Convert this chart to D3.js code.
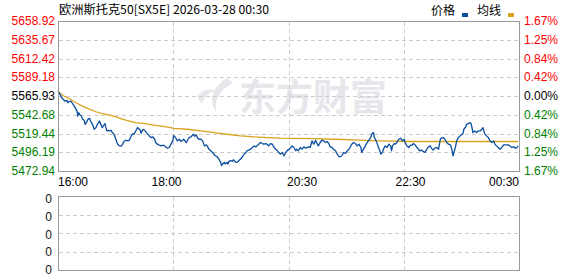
<!DOCTYPE html>
<html>
<head>
<meta charset="utf-8">
<script src="https://d3js.org/d3.v7.min.js"></script>
<style>
  body { margin: 0; background: #fff; }
  svg { display: block; }
  text { font-family: Arial, "Liberation Sans", sans-serif; font-size: 12px; }
</style>
</head>
<body>
<svg id="chart"></svg>
<script>
// chart texts
var titleText = '欧洲斯托克50[SX5E] 2026-03-28 00:30';
var legendNames = ['价格', '均线'];
var watermarkText = '东方财富';

// tick labels
var priceTicks = ['5658.92', '5635.67', '5612.42', '5589.18', '5565.93', '5542.68', '5519.44', '5496.19', '5472.94'];
var pctTicks = ['1.67%', '1.25%', '0.84%', '0.42%', '0.00%', '0.42%', '0.84%', '1.25%', '1.67%'];
var timeLabels = ['16:00', '18:00', '20:30', '22:30', '00:30'];
var timeMinutes = [0, 120, 270, 390, 510]; // minutes after 16:00
var volumeTicks = ['0', '0', '0', '0', '0'];

// price series: [minutes after 16:00, price]
var pricePoints = [
  [0,5571.8],[2,5568.6],[4,5563.7],[6,5561.6],[8,5559.5],[10,5560.4],[11,5557.5],[12,5558.8],[14,5559.5],[16,5556.7],
  [18,5553.4],[20,5549.3],[21,5547.2],[22,5541.0],[23,5545.2],[24,5543.1],[26,5541.0],[27,5537.8],[29,5535.7],[30,5530.8],
  [32,5534.1],[33,5537.0],[35,5538.2],[36,5534.9],[38,5530.8],[39,5528.7],[40,5524.6],[42,5526.7],[44,5531.7],[46,5534.9],
  [47,5531.7],[49,5526.7],[50,5528.7],[52,5531.7],[53,5526.7],[54,5522.6],[56,5523.4],[57,5522.6],[59,5523.4],[60,5520.6],
  [62,5518.5],[64,5512.3],[66,5506.2],[68,5504.1],[70,5503.7],[71,5505.3],[73,5509.5],[75,5511.1],[77,5510.3],[79,5511.1],
  [81,5516.4],[83,5519.3],[84,5518.5],[86,5522.6],[88,5526.7],[89,5525.9],[91,5523.4],[92,5519.7],[93,5522.6],[94,5524.6],
  [96,5523.4],[97,5521.8],[99,5519.3],[101,5516.4],[103,5514.4],[105,5515.2],[107,5512.3],[108,5508.3],[110,5506.2],[112,5504.9],
  [114,5504.1],[116,5504.9],[118,5504.1],[119,5502.9],[121,5501.2],[123,5502.1],[125,5506.2],[127,5510.3],[128,5517.0],[130,5514.4],
  [132,5510.3],[134,5512.3],[136,5509.5],[137,5510.3],[139,5512.3],[141,5509.5],[142,5508.3],[144,5512.3],[145,5514.4],[147,5515.2],
  [149,5517.7],[150,5518.5],[151,5516.0],[153,5517.7],[154,5514.4],[156,5512.3],[158,5512.3],[160,5510.3],[161,5507.0],[162,5504.1],
  [164,5505.4],[165,5504.1],[167,5500.0],[169,5498.0],[171,5495.9],[173,5493.1],[174,5491.8],[176,5490.6],[178,5487.7],[180,5483.6],
  [181,5479.5],[182,5481.6],[184,5483.6],[185,5481.6],[187,5483.6],[188,5481.6],[189,5484.8],[191,5485.7],[193,5484.8],[194,5486.9],
  [195,5485.7],[197,5483.6],[198,5483.6],[200,5485.7],[202,5487.7],[204,5490.6],[206,5493.9],[208,5495.9],[209,5498.0],[211,5498.8],
  [213,5500.0],[215,5502.1],[217,5504.1],[219,5502.9],[220,5504.1],[222,5506.2],[224,5508.3],[226,5507.0],[228,5506.2],[230,5507.0],
  [232,5505.4],[233,5504.1],[235,5507.0],[237,5506.2],[239,5502.1],[241,5500.0],[243,5498.0],[244,5495.9],[246,5493.9],[248,5495.9],
  [250,5491.8],[252,5495.9],[254,5498.8],[256,5500.0],[257,5501.3],[259,5504.1],[261,5502.1],[263,5498.0],[264,5500.0],[266,5498.0],
  [268,5502.1],[270,5500.0],[272,5502.9],[274,5501.3],[276,5502.1],[277,5502.9],[279,5502.1],[281,5510.3],[283,5506.2],[285,5511.1],
  [287,5506.2],[288,5504.1],[290,5508.3],[292,5511.1],[294,5510.3],[296,5508.3],[298,5509.5],[300,5506.2],[301,5502.9],[303,5502.1],
  [305,5500.0],[307,5498.0],[309,5493.9],[311,5490.6],[312,5490.6],[314,5491.8],[316,5495.9],[318,5494.7],[320,5498.0],[322,5500.0],
  [323,5502.1],[325,5506.2],[327,5508.3],[329,5507.0],[331,5504.1],[333,5506.2],[335,5502.1],[336,5495.9],[338,5500.0],[340,5504.1],
  [342,5508.3],[344,5511.1],[346,5514.4],[347,5518.5],[349,5520.6],[350,5514.4],[352,5510.3],[354,5504.1],[356,5498.0],[357,5493.9],
  [359,5495.9],[360,5500.0],[362,5504.1],[364,5502.1],[366,5506.2],[368,5504.1],[369,5498.0],[370,5504.1],[372,5507.0],[373,5506.2],
  [375,5508.3],[377,5512.3],[379,5513.6],[381,5510.3],[383,5512.3],[384,5508.3],[386,5504.1],[388,5502.1],[390,5505.0],[392,5505.0],
  [393,5507.0],[395,5505.4],[397,5502.1],[399,5500.0],[400,5498.0],[402,5498.8],[404,5497.2],[406,5495.9],[408,5500.0],[410,5502.9],
  [412,5504.1],[413,5501.3],[415,5498.8],[417,5501.3],[419,5502.1],[421,5500.0],[422,5506.2],[423,5512.3],[424,5513.6],[426,5514.4],
  [428,5512.3],[430,5508.3],[432,5506.2],[434,5505.4],[435,5502.9],[436,5498.0],[437,5491.8],[438,5495.9],[440,5504.1],[441,5510.3],
  [443,5514.4],[445,5516.5],[447,5518.5],[448,5519.3],[449,5524.7],[451,5527.5],[452,5530.8],[454,5531.6],[456,5532.9],[457,5531.6],
  [458,5526.7],[459,5520.6],[461,5522.6],[463,5520.6],[465,5522.6],[467,5522.6],[469,5524.7],[470,5526.7],[471,5523.4],[472,5519.3],
  [474,5516.5],[476,5514.4],[478,5510.3],[480,5508.3],[482,5510.3],[483,5507.0],[485,5504.1],[487,5502.1],[489,5500.0],[491,5502.1],
  [493,5505.4],[495,5505.4],[496,5505.4],[498,5505.4],[500,5504.1],[502,5502.1],[504,5502.9],[506,5501.3],[507,5501.3],[509,5504.1]
];

// average line: [minutes after 16:00, price]
var avgPoints = [
  [0,5571.9],[5,5566.9],[12,5562.8],[20,5557.5],[27,5553.4],[35,5549.3],[42,5546.4],[49,5544.0],[57,5542.3],[64,5539.9],
  [72,5537.0],[79,5534.9],[86,5532.9],[94,5532.1],[101,5530.8],[108,5529.6],[116,5528.4],[123,5527.1],[128,5525.9],[143,5524.7],
  [158,5522.6],[173,5520.6],[187,5518.5],[202,5516.5],[217,5515.2],[232,5514.4],[246,5513.6],[281,5513.2],[307,5512.3],[333,5511.1],
  [355,5510.3],[389,5509.5],[509,5509.5]
];

// layout
var width = 578;
var height = 276;
var plot = {left: 58, right: 519, top: 21, bottom: 171};
var vol = {top: 196, bottom: 270};

var red = '#ff0000', green = '#008000', black = '#000';
var priceColor = '#0b4f9e', avgColor = '#daa21d';

var svg = d3.select('#chart')
  .attr('width', width)
  .attr('height', height);

// scales
var x = d3.scaleLinear().domain([0, 510]).range([plot.left, plot.right]);
var y = d3.scaleLinear()
  .domain([+priceTicks[priceTicks.length - 1], +priceTicks[0]])
  .range([plot.bottom, plot.top]);
var row = d3.scaleLinear().domain([0, priceTicks.length - 1]).range([plot.top, plot.bottom]);
var col = d3.scaleLinear().domain([0, 4]).range([plot.left, plot.right]);
var volRow = d3.scaleLinear().domain([0, 4]).range([vol.top, vol.bottom]);
var volLabelRow = d3.scaleLinear().domain([0, 4]).range([vol.top + 3, vol.bottom]);

function tickColor(i) {
  if (i < 4) return red;
  if (i === 4) return black;
  return green;
}

// watermark
var wm = svg.append('g').attr('fill', '#e6e6eb');
wm.append('path')
  .attr('d', 'M227,78 C214,86 207,99 217,113 C213,101 219,90 233,83 C231,81 229,79 227,78 Z');
wm.append('path')
  .attr('d', 'M198,96 C203,89 211,88 216,91 C209,92 204,97 202,104 C200,102 198,99 198,96 Z');
wm.append('text')
  .attr('x', 239)
  .attr('y', 111)
  .style('font-family', '"Noto Sans CJK SC", sans-serif')
  .style('font-size', '37px')
  .style('font-weight', 'bold')
  .text(watermarkText);

// grids
var grid = svg.append('g')
  .attr('transform', 'translate(0.5,0.5)')
  .attr('stroke', '#cccccc')
  .attr('stroke-dasharray', '4,3')
  .attr('shape-rendering', 'crispEdges');

grid.selectAll('line.h')
  .data(d3.range(1, priceTicks.length - 1))
  .enter()
  .append('line')
    .attr('class', 'h')
    .attr('x1', plot.left).attr('x2', plot.right)
    .attr('y1', function(d) { return Math.round(row(d)); })
    .attr('y2', function(d) { return Math.round(row(d)); });

grid.selectAll('line.v')
  .data([1, 2, 3])
  .enter()
  .append('line')
    .attr('class', 'v')
    .attr('x1', function(d) { return Math.round(col(d)); })
    .attr('x2', function(d) { return Math.round(col(d)); })
    .attr('y1', plot.top).attr('y2', plot.bottom);

grid.selectAll('line.vh')
  .data([1, 2, 3])
  .enter()
  .append('line')
    .attr('class', 'vh')
    .attr('x1', plot.left).attr('x2', plot.right)
    .attr('y1', function(d) { return Math.round(volRow(d)); })
    .attr('y2', function(d) { return Math.round(volRow(d)); });

grid.selectAll('line.vv')
  .data([1, 2, 3])
  .enter()
  .append('line')
    .attr('class', 'vv')
    .attr('x1', function(d) { return Math.round(col(d)); })
    .attr('x2', function(d) { return Math.round(col(d)); })
    .attr('y1', vol.top).attr('y2', vol.bottom);

// lines
var line = d3.line()
  .x(function(d) { return x(d[0]); })
  .y(function(d) { return y(d[1]); });

svg.append('path')
  .datum(avgPoints)
  .attr('fill', 'none')
  .attr('stroke', avgColor)
  .attr('stroke-width', 1.3)
  .attr('d', line);

svg.append('path')
  .datum(pricePoints)
  .attr('fill', 'none')
  .attr('stroke', priceColor)
  .attr('stroke-width', 1.3)
  .attr('stroke-linejoin', 'round')
  .attr('d', line);

// frames
var frames = svg.append('g')
  .attr('transform', 'translate(0.5,0.5)')
  .attr('fill', 'none')
  .attr('stroke', '#999999')
  .attr('shape-rendering', 'crispEdges');
frames.append('rect')
  .attr('x', plot.left).attr('y', plot.top)
  .attr('width', plot.right - plot.left).attr('height', plot.bottom - plot.top);
frames.append('rect')
  .attr('x', plot.left).attr('y', vol.top)
  .attr('width', plot.right - plot.left).attr('height', vol.bottom - vol.top);

// left price labels
svg.selectAll('text.price')
  .data(priceTicks)
  .enter()
  .append('text')
    .attr('class', 'price')
    .attr('x', 55)
    .attr('y', function(d, i) { return row(i); })
    .attr('dy', '0.35em')
    .attr('text-anchor', 'end')
    .attr('fill', function(d, i) { return tickColor(i); })
    .text(function(d) { return d; });

// right percent labels
svg.selectAll('text.pct')
  .data(pctTicks)
  .enter()
  .append('text')
    .attr('class', 'pct')
    .attr('x', 524)
    .attr('y', function(d, i) { return row(i); })
    .attr('dy', '0.35em')
    .attr('fill', function(d, i) { return tickColor(i); })
    .text(function(d) { return d; });

// time labels
svg.selectAll('text.time')
  .data(timeLabels)
  .enter()
  .append('text')
    .attr('class', 'time')
    .attr('x', function(d, i) { return x(timeMinutes[i]); })
    .attr('y', 186)
    .attr('text-anchor', function(d, i) {
      if (i === 0) return 'start';
      if (i === timeLabels.length - 1) return 'end';
      return 'middle';
    })
    .attr('fill', black)
    .text(function(d) { return d; });

// volume labels
svg.selectAll('text.vol')
  .data(volumeTicks)
  .enter()
  .append('text')
    .attr('class', 'vol')
    .attr('x', 52)
    .attr('y', function(d, i) { return volLabelRow(i); })
    .attr('dy', '0.35em')
    .attr('text-anchor', 'end')
    .attr('fill', '#111')
    .text(function(d) { return d; });

// title
svg.append('text')
  .attr('x', 59)
  .attr('y', 14)
  .attr('textLength', 210)
  .attr('lengthAdjust', 'spacingAndGlyphs')
  .style('font-family', '"Noto Sans CJK SC", sans-serif')
  .text(titleText);

// legend
var legend = svg.append('g');
legend.append('text')
  .attr('x', 431).attr('y', 15)
  .style('font-family', '"Noto Sans CJK SC", sans-serif')
  .text(legendNames[0]);
legend.append('rect')
  .attr('x', 462).attr('y', 13).attr('width', 6).attr('height', 4)
  .attr('fill', priceColor);
legend.append('text')
  .attr('x', 477).attr('y', 15)
  .style('font-family', '"Noto Sans CJK SC", sans-serif')
  .text(legendNames[1]);
legend.append('rect')
  .attr('x', 508).attr('y', 13).attr('width', 6).attr('height', 4)
  .attr('fill', avgColor);
</script>
</body>
</html>
